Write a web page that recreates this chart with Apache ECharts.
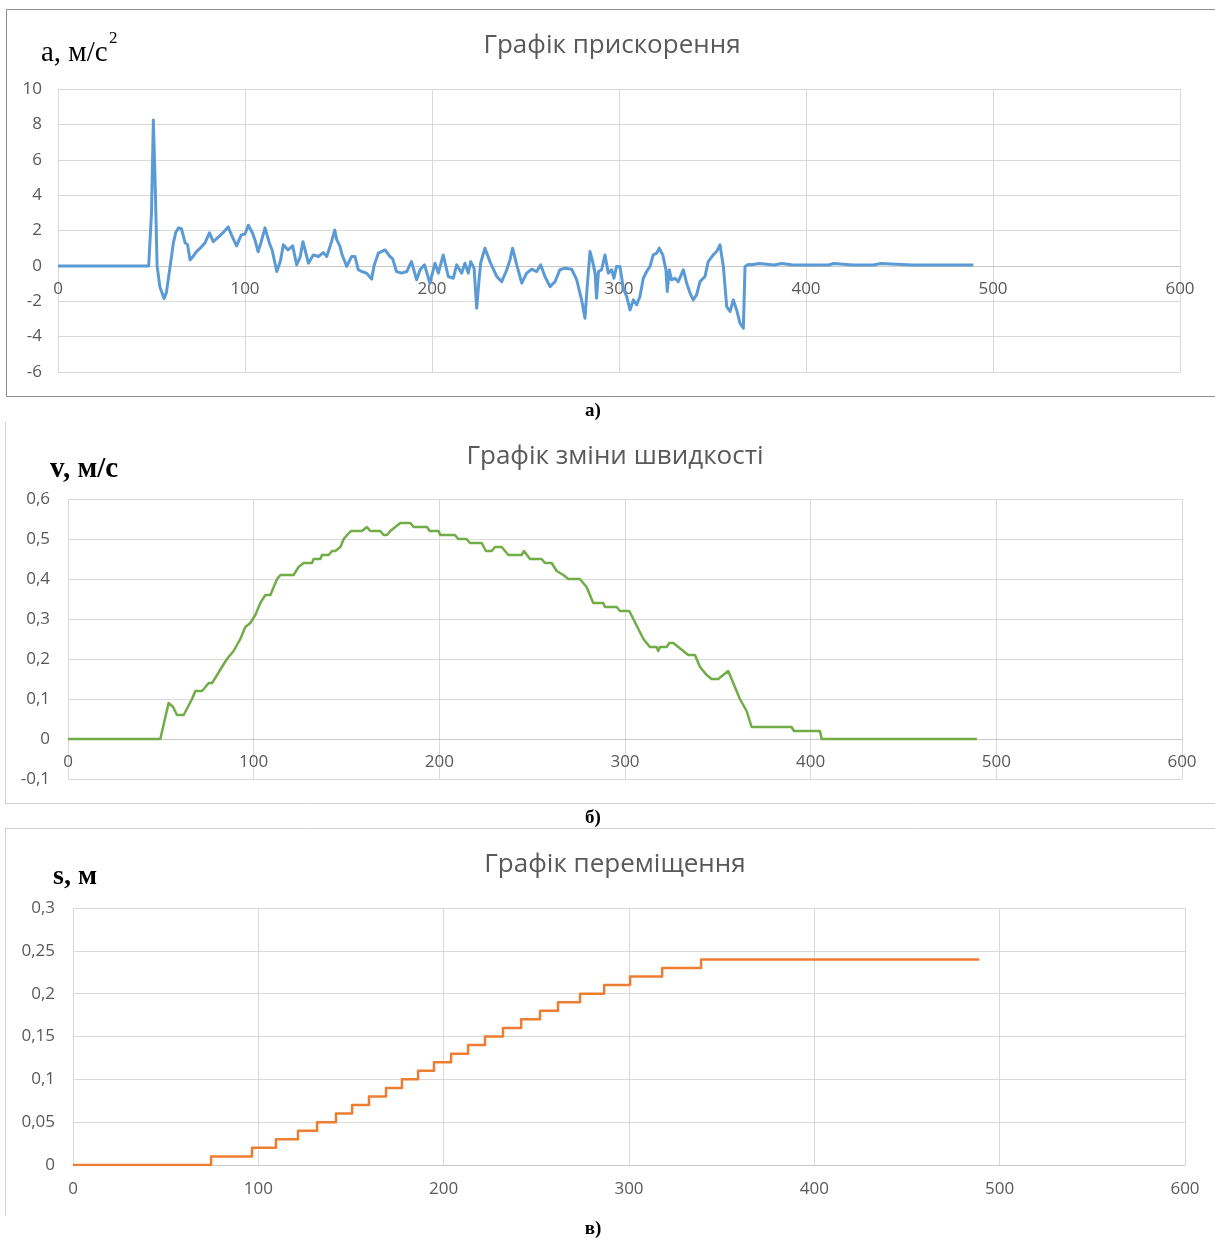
<!DOCTYPE html>
<html>
<head>
<meta charset="utf-8">
<script src="https://cdn.jsdelivr.net/npm/echarts@6/dist/echarts.min.js"></script>
<style>
  html, body { margin: 0; padding: 0; background: #fff; }
  #main { width: 1215px; height: 1239px; }
</style>
</head>
<body>
<div id="main"></div>
<script>
  // прискорення a(t), [t, a]
  const accelData = [
    [0, 0], [48.5, 0], [50, 3], [51, 8.25], [52, 4.5], [53, 0], [54.5, -1.2], [56.7, -1.85], [58, -1.5], [60, 0],
    [61.7, 1.3], [63, 1.9], [64.5, 2.15], [66, 2.1], [68, 1.3], [69.3, 1.2], [70.6, 0.34], [72, 0.5], [74, 0.8],
    [76, 1.0], [78.6, 1.3], [81, 1.87], [83, 1.37], [85, 1.55], [88, 1.85], [91, 2.2], [93, 1.7], [95.5, 1.13],
    [98, 1.75], [100, 1.8], [101.8, 2.3], [104, 1.86], [105.5, 1.4], [107, 0.8], [108.5, 1.3], [110.7, 2.15],
    [113, 1.3], [114.5, 0.9], [117, -0.32], [119, 0.3], [120.5, 1.2], [123, 0.9], [125.5, 1.13], [127.6, 0.06],
    [129.5, 0.5], [131, 1.37], [133.9, 0.15], [136.5, 0.62], [139.2, 0.53], [141.9, 0.75], [143.7, 0.53],
    [146.3, 1.37], [148, 2.03], [149, 1.5], [150.8, 1.1], [152, 0.6], [154.4, -0.03], [157, 0.53], [158.8, 0.53],
    [160.6, -0.22], [162.4, -0.32], [165, -0.41], [167.7, -0.75], [169, 0], [171.3, 0.72], [174.9, 0.9],
    [177.5, 0.53], [179, 0.4], [181, -0.32], [183.8, -0.41], [186.5, -0.32], [189, 0.24], [191.8, -0.79],
    [193.6, -0.22], [196, 0.06], [198.9, -0.98], [201.6, 0.15], [203.4, -0.41], [206, 0.62], [208.7, -0.6],
    [211.4, -0.7], [213.2, 0.06], [215.9, -0.41], [217.6, 0.15], [219.4, -0.41], [220.7, 0.24], [222.5, -0.13],
    [223.9, -2.39], [225, -1], [226, 0.15], [228.3, 1.0], [231, 0.24], [234.6, -0.6], [237.3, -0.89], [240, -0.22],
    [241.7, 0.34], [243.1, 1.0], [245.3, 0.06], [248, -0.98], [250.6, -0.41], [253.3, -0.19], [256, -0.32],
    [258.1, 0.06], [260.4, -0.6], [263.1, -1.17], [265.8, -0.89], [268.4, -0.22], [271.1, -0.13], [272, -0.19],
    [274.7, -0.19], [277.4, -0.79], [280, -1.92], [281.8, -2.96], [283, -1.17], [284.5, 0.81], [285.7, 0.34],
    [287.2, -0.41], [288, -1.83], [289, -0.32], [290.7, -0.22], [292.5, 0.62], [294.3, -0.41], [296.1, -0.22],
    [297.3, -0.7], [298.7, -0.03], [300.5, -0.03], [302.3, -1.26], [304.1, -1.73], [305.9, -2.49], [307.7, -1.92],
    [309.5, -2.2], [311.2, -1.73], [313, -0.7], [314.8, -0.32], [316.6, -0.03], [318.3, 0.62], [320.2, 0.72],
    [321.5, 1.0], [323.4, 0.62], [325.1, -0.22], [325.8, -1.45], [326.9, -0.22], [328.1, -0.79], [329.9, -0.7],
    [331.7, -0.89], [334.4, -0.22], [336.2, -0.98], [338, -1.54], [339.7, -1.92], [341.5, -1.64], [343.3, -0.89],
    [346, -0.6], [347.7, 0.24], [350.4, 0.62], [352.2, 0.81], [354, 1.19], [355.8, -0.03], [357.6, -2.3],
    [359.4, -2.58], [361.1, -1.92], [362.9, -2.49], [364.7, -3.24], [366.5, -3.52], [367.4, -0.03], [369.1, 0.08],
    [371, 0.06], [372, 0.13], [375, 0.13], [376, 0.05], [383, 0.05], [384, 0.13], [387, 0.13], [388, 0.05],
    [393, 0.05], [394, 0.13], [395, 0.05], [397, 0.05], [398, 0.13], [399, 0.05], [401, 0.05], [402, 0.13],
    [403, 0.05], [405, 0.05], [406, 0.13], [407, 0.05], [412, 0.05], [413, 0.13], [415, 0.13], [416, 0.05],
    [425, 0.05], [426, 0.12], [427, 0.05], [436, 0.05], [437, 0.13], [440, 0.13], [441, 0.05], [457, 0.05],
    [458, 0.12], [459, 0.05], [463, 0.05], [464, 0.12], [465, 0.05], [468, 0.05], [469, 0.12], [470, 0.05],
    [474, 0.05], [475, 0.12], [476, 0.05], [489.5, 0.05]
  ]

  // швидкість v(t), [t, v]
  const velocityData = [
    [0, 0], [49.7, 0], [54.2, 0.09], [56.6, 0.08], [58.7, 0.06], [62.3, 0.06], [66.8, 0.1], [68.6, 0.12],
    [72.2, 0.12], [74, 0.13], [75.8, 0.14], [77.6, 0.14], [80.3, 0.16], [82.9, 0.18], [85.6, 0.2], [89.2, 0.22],
    [92.8, 0.25], [95.5, 0.28], [98.2, 0.29], [100.9, 0.31], [103.6, 0.34], [106.3, 0.36], [109, 0.36],
    [112.6, 0.4], [114.4, 0.41], [121.5, 0.41], [124.2, 0.43], [126.9, 0.44], [131.4, 0.44], [132.3, 0.45],
    [135.9, 0.45], [136.8, 0.46], [140.4, 0.46], [142.2, 0.47], [144, 0.47], [146.7, 0.48], [148.5, 0.5],
    [150.3, 0.51], [152.4, 0.52], [158.3, 0.52], [161, 0.53], [162.8, 0.52], [168.2, 0.52], [170, 0.51],
    [171.8, 0.51], [173.6, 0.52], [176.3, 0.53], [179, 0.54], [184.4, 0.54], [186.2, 0.53], [193.4, 0.53],
    [194.8, 0.52], [199.6, 0.52], [200.5, 0.51], [208.4, 0.51], [210.2, 0.5], [214.7, 0.5], [216.5, 0.49],
    [222.8, 0.49], [225.1, 0.47], [228.2, 0.47], [230, 0.48], [233.6, 0.48], [237.2, 0.46], [244.3, 0.46],
    [245.6, 0.47], [248.8, 0.45], [255.1, 0.45], [256.9, 0.44], [260.5, 0.44], [263.2, 0.42], [266.8, 0.41],
    [269.5, 0.4], [275.7, 0.4], [279.3, 0.38], [282.9, 0.34], [288.3, 0.34], [289.2, 0.33], [295.5, 0.33],
    [297.3, 0.32], [302.3, 0.32], [304.5, 0.3], [309.9, 0.25], [313.4, 0.23], [317, 0.23], [317.9, 0.22],
    [318.8, 0.23], [322.4, 0.23], [323.9, 0.24], [326, 0.24], [328.7, 0.23], [331.4, 0.22], [334.1, 0.21],
    [337.7, 0.21], [340.4, 0.18], [344, 0.16], [346.6, 0.15], [350.2, 0.15], [352.9, 0.16], [355.6, 0.17],
    [358.3, 0.14], [361.9, 0.1], [365.5, 0.07], [368.2, 0.03], [389.7, 0.03], [391, 0.02], [405, 0.02],
    [405.9, 0], [489.5, 0]
  ]

  // переміщення s(t): момент, з якого починається нова сходинка, [t, s]
  const displacementData = [
    [0, 0], [74.5, 0.01], [96.6, 0.02], [109.5, 0.03], [121.4, 0.04], [131.7, 0.05], [141.9, 0.06],
    [150.6, 0.07], [159.7, 0.08], [168.9, 0.09], [177.5, 0.1], [186.2, 0.11], [194.8, 0.12], [204, 0.13],
    [213.2, 0.14], [222.3, 0.15], [232, 0.16], [241.8, 0.17], [252, 0.18], [261.7, 0.19], [273.6, 0.2],
    [286.6, 0.21], [300.6, 0.22], [317.9, 0.23], [338.9, 0.24], [489, 0.24]
  ]

  const titles = ['Графік прискорення', 'Графік зміни швидкості', 'Графік переміщення']
  const captions = ['а)', 'б)', 'в)']

  const font = 'Open Sans'
  const labelColor = '#595959'
  const comma = v => String(v).replace('.', ',')

  // offset < 0 піднімає вісь X до лінії нуля (як в Excel)
  function xAxisOf(idx, margin, offset) {
    return {
      type: 'value', gridIndex: idx, min: 0, max: 600, interval: 100, offset: offset,
      axisLine: { onZero: false, lineStyle: { color: '#c8c8c8', width: 1 } },
      axisTick: { show: false },
      axisLabel: { color: labelColor, fontSize: 17, fontFamily: font, margin: margin, showMaxLabel: true },
      splitLine: { show: true, lineStyle: { color: '#d9d9d9', width: 1 } }
    }
  }
  function yAxisOf(idx, min, max, interval, margin, fmt) {
    return {
      type: 'value', gridIndex: idx, min: min, max: max, interval: interval,
      axisLine: { show: false },
      axisTick: { show: false },
      axisLabel: { color: labelColor, fontSize: 17, fontFamily: font, margin: margin, formatter: fmt },
      splitLine: { show: true, lineStyle: { color: '#d9d9d9', width: 1 } }
    }
  }
  function lineSeries(idx, data, color, width, step) {
    return {
      type: 'line', xAxisIndex: idx, yAxisIndex: idx, data: data, step: step || false,
      showSymbol: false, symbol: 'none', silent: true,
      lineStyle: { color: color, width: width, join: 'round' }
    }
  }
  function titleOf(text, x, y) {
    return { text: text, left: x, top: y, textAlign: 'center',
      textStyle: { fontFamily: font, fontWeight: 'normal', fontSize: 26, color: labelColor } }
  }

  let myChart = echarts.init(document.getElementById('main'))
  myChart.setOption({
    animation: false,
    backgroundColor: '#fff',
    title: [titleOf(titles[0], 607, 28), titleOf(titles[1], 610, 439), titleOf(titles[2], 610, 847)],
    grid: [
      { left: 58, right: 35, top: 89, height: 283 },
      { left: 68, right: 33, top: 499, height: 280 },
      { left: 73, right: 30, top: 908, height: 257 }
    ],
    xAxis: [xAxisOf(0, 15, -106), xAxisOf(1, 15, -40), xAxisOf(2, 16, 0)],
    yAxis: [
      yAxisOf(0, -6, 10, 2, 16),
      yAxisOf(1, -0.1, 0.6, 0.1, 18, comma),
      yAxisOf(2, 0, 0.3, 0.05, 18, comma)
    ],
    series: [
      lineSeries(0, accelData, '#5b9bd5', 3),
      lineSeries(1, velocityData, '#70ad47', 2.5),
      lineSeries(2, displacementData, '#ed7d31', 2.5, 'end')
    ],
    graphic: [
      // рамки діаграм
      { type: 'rect', shape: { x: 6.5, y: 9.5, width: 1215, height: 387 }, style: { fill: 'none', stroke: '#8c8c8c', lineWidth: 1 } },
      { type: 'line', shape: { x1: 5.5, y1: 422, x2: 5.5, y2: 803 }, style: { stroke: '#d0d0d0', lineWidth: 1 } },
      { type: 'line', shape: { x1: 5, y1: 803.5, x2: 1215, y2: 803.5 }, style: { stroke: '#d0d0d0', lineWidth: 1 } },
      { type: 'line', shape: { x1: 5.5, y1: 828, x2: 5.5, y2: 1216 }, style: { stroke: '#d0d0d0', lineWidth: 1 } },
      { type: 'line', shape: { x1: 5, y1: 828.5, x2: 1215, y2: 828.5 }, style: { stroke: '#d0d0d0', lineWidth: 1 } },
      // підписи осей
      { type: 'text', left: 41, top: 39, style: { text: 'a, м/с', font: 'normal 29px "Liberation Serif"', fill: '#000' } },
      { type: 'text', left: 109, top: 30, style: { text: '2', font: 'normal 17px "Liberation Serif"', fill: '#000' } },
      { type: 'text', left: 50, top: 455, style: { text: 'v, м/с', font: 'bold 29px "Liberation Serif"', fill: '#000' } },
      { type: 'text', left: 53, top: 863, style: { text: 's, м', font: 'bold 28px "Liberation Serif"', fill: '#000' } },
      // позначки а), б), в)
      { type: 'text', x: 593, y: 411, style: { text: captions[0], font: 'bold 19px "Liberation Serif"', fill: '#000', align: 'center', verticalAlign: 'middle' } },
      { type: 'text', x: 593, y: 818, style: { text: captions[1], font: 'bold 19px "Liberation Serif"', fill: '#000', align: 'center', verticalAlign: 'middle' } },
      { type: 'text', x: 593, y: 1229, style: { text: captions[2], font: 'bold 19px "Liberation Serif"', fill: '#000', align: 'center', verticalAlign: 'middle' } }
    ]
  })
</script>
</body>
</html>
